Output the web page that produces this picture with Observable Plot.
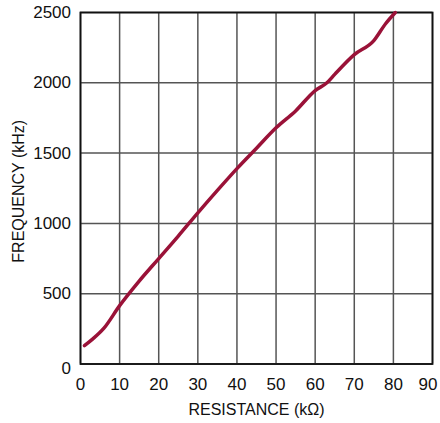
<!DOCTYPE html>
<html>
<head>
<meta charset="utf-8">
<script src="https://cdn.jsdelivr.net/npm/d3@7"></script>
<script src="https://cdn.jsdelivr.net/npm/@observablehq/plot@0.6"></script>
<style>
  html, body { margin: 0; padding: 0; background: #fff; }
  svg { display: block; overflow: visible; }
</style>
</head>
<body>
<div id="chart"></div>
<script>
const resistance = [1, 3, 6, 10, 15, 20, 25, 30, 35, 40, 45, 50, 55, 60, 63, 65, 70, 75, 78, 80.5];
const frequency = [130, 175, 255, 415, 590, 750, 910, 1075, 1235, 1390, 1535, 1680, 1800, 1945, 2000, 2060, 2200, 2300, 2420, 2500];
const xTicks = [0, 10, 20, 30, 40, 50, 60, 70, 80, 90];
const yTicks = [0, 500, 1000, 1500, 2000, 2500];
const xLabel = "RESISTANCE (kΩ)";
const yLabel = "FREQUENCY (kHz)";

const data = resistance.map((r, i) => ({r, f: frequency[i]}));
const font = "'Liberation Sans', Arial, sans-serif";
const fmt = d3.format("d");
const ink = "#111";

const chart = Plot.plot({
  width: 440,
  height: 423,
  marginLeft: 80,
  marginRight: 8,
  marginTop: 12,
  marginBottom: 59.5,
  style: {fontFamily: font, fontSize: "17px", color: ink, background: "#fff", overflow: "visible"},
  x: {domain: [0, 90], ticks: xTicks, label: null},
  y: {domain: [0, 2500], ticks: yTicks, label: null},
  marks: [
    Plot.gridX(xTicks, {stroke: "#555", strokeOpacity: 1, strokeWidth: 1.5}),
    Plot.gridY(yTicks, {stroke: "#555", strokeOpacity: 1, strokeWidth: 1.5}),
    Plot.frame({stroke: ink, strokeWidth: 1.8}),
    Plot.axisX(xTicks.slice(0, -1), {tickSize: 0, tickPadding: 14, fontSize: 17, tickFormat: fmt, label: null}),
    Plot.axisX(xTicks.slice(-1), {tickSize: 0, tickPadding: 14, fontSize: 17, tickFormat: fmt, label: null, dx: -4.5}),
    Plot.axisY(yTicks.slice(1), {tickSize: 0, tickPadding: 9.5, fontSize: 17, tickFormat: fmt, label: null}),
    Plot.axisY(yTicks.slice(0, 1), {tickSize: 0, tickPadding: 9.5, fontSize: 17, tickFormat: fmt, label: null, dy: 5}),
    Plot.text([xLabel], {frameAnchor: "bottom", lineAnchor: "middle", textAnchor: "middle", dy: 45.5, fontSize: 16, fill: ink}),
    Plot.text([yLabel], {frameAnchor: "left", lineAnchor: "middle", textAnchor: "middle", dx: -61.5, dy: 3, rotate: -90, fontSize: 16, fill: ink}),
    Plot.line(data, {x: "r", y: "f", stroke: "#9a1238", strokeWidth: 3.5, curve: "monotone-x"})
  ]
});
document.getElementById("chart").appendChild(chart);
</script>
</body>
</html>
